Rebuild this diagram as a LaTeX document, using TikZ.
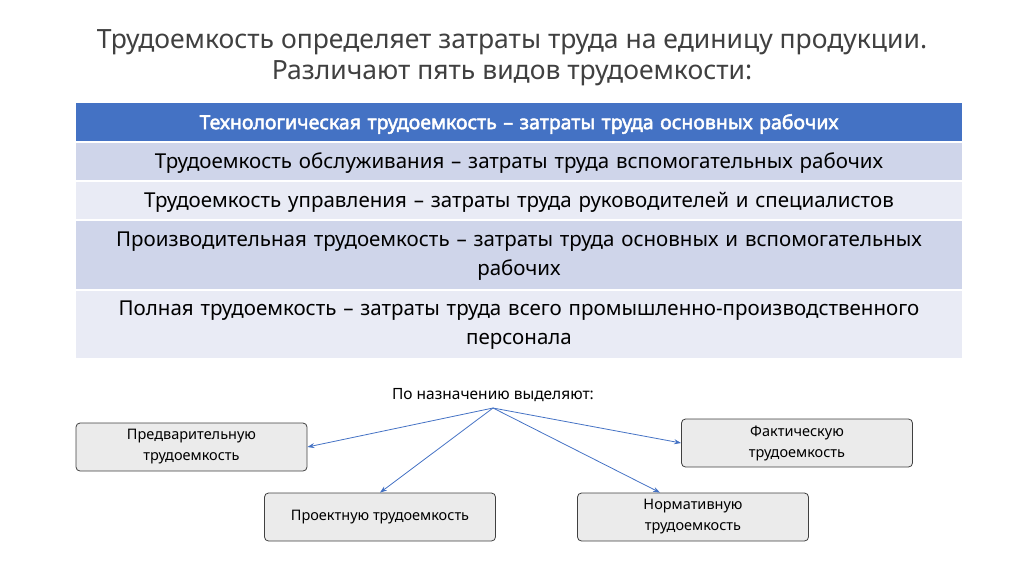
\documentclass[tikz,border=0pt]{standalone}
\usepackage{fontspec}
\setmainfont{Noto Sans}
\newfontfamily\hbold{Noto Sans}[FakeBold=2.5]
\usetikzlibrary{arrows.meta}
\definecolor{hdr}{HTML}{4472C4}
\definecolor{rowa}{HTML}{CFD5EA}
\definecolor{rowb}{HTML}{E9EBF5}
\definecolor{ttl}{HTML}{404040}
\tikzset{
 rowtxt/.style={text width=880pt,align=center,font=\fontsize{20.5}{29}\selectfont,text=black},
 box/.style={draw=black!75,fill=black!8,rounded corners=4pt,line width=0.8pt,align=center,font=\fontsize{14.5}{21}\selectfont,minimum width=231pt,minimum height=48pt},
 arr/.style={draw=hdr,line width=0.8pt,-{Stealth[length=7pt,width=5pt]}}
}
\begin{document}
\begin{tikzpicture}[x=1pt,y=-1pt]
\useasboundingbox (0,0) rectangle (1024,574);
\node[font=\fontsize{26.5}{31}\selectfont,text=ttl,align=center] (title) at (512,58) {Трудоемкость определяет затраты труда на единицу продукции.\\Различают пять видов трудоемкости:};
\fill[hdr] (76,103) rectangle (962,142);
\fill[rowa] (76,142) rectangle (962,181);
\fill[rowb] (76,181) rectangle (962,220);
\fill[rowa] (76,220) rectangle (962,290);
\fill[rowb] (76,290) rectangle (962,358);
\draw[white,line width=1.2pt] (76,142)--(962,142) (76,181)--(962,181) (76,220)--(962,220) (76,290)--(962,290);
\node[rowtxt,text=white,font=\hbold\fontsize{19.5}{29}\selectfont] (r0) at (519,124) {Технологическая трудоемкость – затраты труда основных рабочих};
\node[rowtxt] (r1) at (519,163) {Трудоемкость обслуживания – затраты труда вспомогательных рабочих};
\node[rowtxt] (r2) at (519,202) {Трудоемкость управления – затраты труда руководителей и специалистов};
\node[rowtxt] (r3) at (519,256) {Производительная трудоемкость – затраты труда основных и вспомогательных\\рабочих};
\node[rowtxt] (r4) at (519,325) {Полная трудоемкость – затраты труда всего промышленно-производственного\\персонала};
\node[font=\fontsize{15.5}{18}\selectfont] (lbl) at (493,395) {По назначению выделяют:};
\coordinate (o) at (493,408);
\node[box] (pre) at (191.5,447) {Предварительную\\трудоемкость};
\node[box] (proj) at (380,517) {Проектную трудоемкость};
\node[box] (fact) at (797,443) {Фактическую\\трудоемкость};
\node[box] (norm) at (693,517) {Нормативную\\трудоемкость};
\draw[arr] (o) -- (pre.east);
\draw[arr] (o) -- (proj.north);
\draw[arr] (o) -- (fact.west);
\draw[arr] (o) -- (norm.north -| 660,0);
\end{tikzpicture}
\end{document}
